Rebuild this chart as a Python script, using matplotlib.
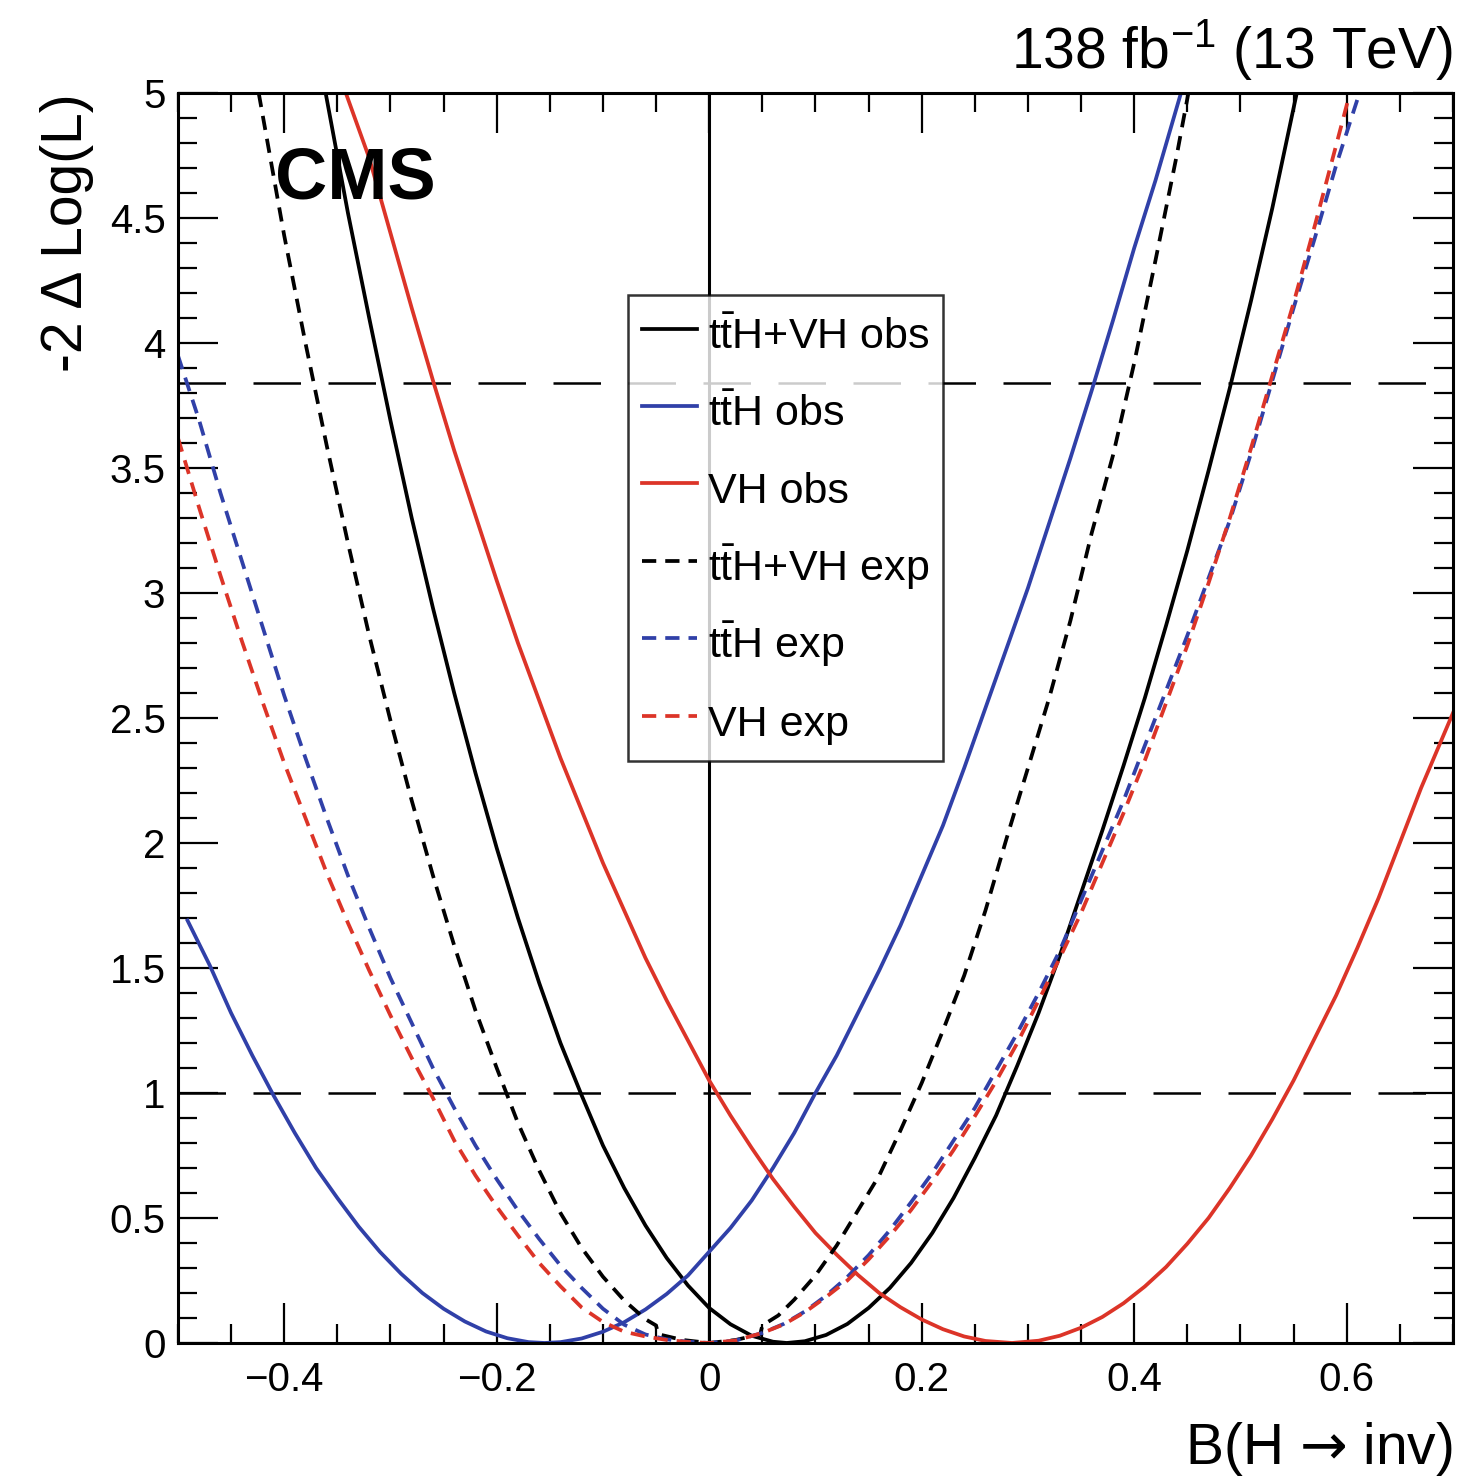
"""
-2 Delta Log(L) scans for B(H -> inv), CMS 138 fb^-1
"""

import matplotlib
matplotlib.use("Agg")
import matplotlib.pyplot as plt
from matplotlib.ticker import MultipleLocator, FuncFormatter

plt.rcParams['font.family'] = ['Liberation Sans', 'DejaVu Sans']
plt.rcParams['mathtext.fontset'] = 'custom'
plt.rcParams['mathtext.rm'] = 'Liberation Sans'
plt.rcParams['mathtext.it'] = 'Liberation Sans:italic'
plt.rcParams['mathtext.bf'] = 'Liberation Sans:bold'
plt.rcParams['mathtext.sf'] = 'DejaVu Sans'

# ttH+VH observed
comb_obs_x = [-0.361, -0.34, -0.32, -0.30, -0.28, -0.26, -0.24, -0.22, -0.20, -0.18,
              -0.16, -0.14, -0.12, -0.10, -0.08, -0.06, -0.04, -0.02, 0.0, 0.02,
              0.04, 0.06, 0.073, 0.09, 0.11, 0.13, 0.15, 0.17, 0.19, 0.21,
              0.23, 0.25, 0.27, 0.29, 0.31, 0.33, 0.35, 0.37, 0.39, 0.41,
              0.43, 0.45, 0.47, 0.49, 0.51, 0.53, 0.553]
comb_obs_y = [5.0, 4.52, 4.10, 3.69, 3.30, 2.94, 2.60, 2.28, 1.98, 1.70,
              1.44, 1.20, 0.99, 0.79, 0.62, 0.47, 0.34, 0.23, 0.14, 0.075,
              0.029, 0.005, 0.0, 0.007, 0.032, 0.076, 0.14, 0.22, 0.32, 0.44,
              0.58, 0.74, 0.91, 1.11, 1.32, 1.55, 1.80, 2.05, 2.31, 2.58,
              2.87, 3.17, 3.49, 3.82, 4.17, 4.54, 5.0]

# ttH observed
tth_obs_x = [-0.491, -0.47, -0.45, -0.43, -0.41, -0.39, -0.37, -0.35, -0.33, -0.31,
             -0.29, -0.27, -0.25, -0.23, -0.21, -0.19, -0.17, -0.155, -0.14, -0.12,
             -0.10, -0.08, -0.06, -0.04, -0.02, 0.0, 0.02, 0.04, 0.06, 0.08,
             0.10, 0.12, 0.14, 0.16, 0.18, 0.20, 0.22, 0.24, 0.26, 0.28,
             0.30, 0.32, 0.34, 0.36, 0.38, 0.40, 0.42, 0.444]
tth_obs_y = [1.69, 1.51, 1.32, 1.15, 0.99, 0.84, 0.70, 0.58, 0.466, 0.365,
             0.277, 0.20, 0.137, 0.086, 0.046, 0.019, 0.0034, 0.0, 0.0033, 0.018,
             0.045, 0.083, 0.134, 0.196, 0.27, 0.365, 0.46, 0.57, 0.70, 0.84,
             1.0, 1.15, 1.32, 1.49, 1.67, 1.87, 2.07, 2.30, 2.54, 2.78,
             3.02, 3.28, 3.54, 3.81, 4.09, 4.38, 4.65, 5.0]

# VH observed
vh_obs_x = [-0.342, -0.32, -0.30, -0.28, -0.26, -0.24, -0.22, -0.20, -0.18, -0.16,
            -0.14, -0.12, -0.10, -0.08, -0.06, -0.04, -0.02, 0.0, 0.02, 0.04,
            0.06, 0.08, 0.10, 0.12, 0.14, 0.16, 0.18, 0.20, 0.22, 0.24,
            0.26, 0.285, 0.31, 0.33, 0.35, 0.37, 0.39, 0.41, 0.43, 0.45,
            0.47, 0.49, 0.51, 0.53, 0.55, 0.57, 0.59, 0.61, 0.63, 0.65,
            0.67, 0.70]
vh_obs_y = [5.0, 4.74, 4.44, 4.14, 3.85, 3.57, 3.31, 3.05, 2.80, 2.57,
            2.34, 2.13, 1.92, 1.73, 1.54, 1.37, 1.21, 1.05, 0.91, 0.78,
            0.656, 0.545, 0.44, 0.353, 0.272, 0.20, 0.143, 0.094, 0.055, 0.026,
            0.008, 0.0, 0.009, 0.029, 0.061, 0.104, 0.159, 0.226, 0.304, 0.397,
            0.50, 0.62, 0.75, 0.895, 1.05, 1.22, 1.39, 1.58, 1.78, 2.0,
            2.22, 2.52]

# ttH+VH expected
comb_exp_x = [-0.424, -0.40, -0.38, -0.36, -0.34, -0.32, -0.30, -0.28, -0.26, -0.24,
              -0.22, -0.20, -0.18, -0.16, -0.14, -0.12, -0.10, -0.08, -0.06, -0.05,
              -0.048, -0.025, 0.0, 0.025, 0.048, 0.05, 0.065, 0.08, 0.10, 0.12,
              0.14, 0.16, 0.18, 0.20, 0.22, 0.24, 0.26, 0.28, 0.30, 0.32,
              0.34, 0.36, 0.38, 0.40, 0.42, 0.44, 0.451]
comb_exp_y = [5.0, 4.43, 4.0, 3.59, 3.2, 2.83, 2.49, 2.17, 1.87, 1.59,
              1.33, 1.10, 0.88, 0.69, 0.52, 0.38, 0.265, 0.17, 0.095, 0.07,
              0.035, 0.012, 0.0, 0.012, 0.035, 0.07, 0.11, 0.173, 0.27, 0.39,
              0.53, 0.67, 0.85, 1.04, 1.25, 1.47, 1.73, 2.02, 2.30, 2.58,
              2.89, 3.24, 3.55, 3.92, 4.33, 4.75, 5.0]

# ttH expected
tth_exp_x = [-0.5, -0.48, -0.46, -0.44, -0.42, -0.40, -0.38, -0.36, -0.34, -0.32,
             -0.30, -0.28, -0.26, -0.24, -0.22, -0.20, -0.18, -0.16, -0.14, -0.12,
             -0.10, -0.08, -0.06, -0.04, -0.02, 0.0, 0.025, 0.05, 0.07, 0.09,
             0.11, 0.13, 0.15, 0.17, 0.19, 0.21, 0.23, 0.25, 0.27, 0.29,
             0.31, 0.33, 0.35, 0.37, 0.39, 0.41, 0.43, 0.45, 0.47, 0.49,
             0.51, 0.53, 0.55, 0.57, 0.59, 0.612]
tth_exp_y = [3.95, 3.69, 3.40, 3.13, 2.86, 2.59, 2.34, 2.10, 1.87, 1.66,
             1.46, 1.28, 1.10, 0.94, 0.79, 0.655, 0.53, 0.416, 0.31, 0.22,
             0.137, 0.073, 0.034, 0.0145, 0.005, 0.0, 0.01, 0.04, 0.076, 0.126,
             0.189, 0.264, 0.351, 0.451, 0.563, 0.68, 0.81, 0.94, 1.09, 1.24,
             1.40, 1.57, 1.77, 1.97, 2.17, 2.39, 2.61, 2.83, 3.06, 3.29,
             3.56, 3.85, 4.14, 4.42, 4.71, 5.0]

# VH expected
vh_exp_x = [-0.5, -0.48, -0.46, -0.44, -0.42, -0.40, -0.38, -0.36, -0.34, -0.32,
            -0.30, -0.28, -0.26, -0.24, -0.22, -0.20, -0.18, -0.16, -0.14, -0.12,
            -0.10, -0.08, -0.06, -0.04, -0.02, 0.0, 0.025, 0.05, 0.07, 0.09,
            0.11, 0.13, 0.15, 0.17, 0.19, 0.21, 0.23, 0.25, 0.27, 0.29,
            0.31, 0.33, 0.35, 0.37, 0.39, 0.41, 0.43, 0.45, 0.47, 0.49,
            0.51, 0.53, 0.55, 0.57, 0.59, 0.603]
vh_exp_y = [3.62, 3.34, 3.07, 2.81, 2.56, 2.32, 2.10, 1.88, 1.68, 1.49,
            1.31, 1.14, 0.98, 0.81, 0.67, 0.545, 0.43, 0.32, 0.227, 0.142,
            0.084, 0.045, 0.026, 0.012, 0.004, 0.0, 0.01, 0.04, 0.074, 0.123,
            0.184, 0.25, 0.334, 0.428, 0.532, 0.647, 0.772, 0.907, 1.047, 1.20,
            1.37, 1.54, 1.72, 1.92, 2.12, 2.33, 2.56, 2.79, 3.04, 3.30,
            3.58, 3.87, 4.16, 4.47, 4.79, 5.0]

thresholds = [1.0, 3.84]

BLACK = 'black'
BLUE = '#3040a8'
RED = '#dc3428'
LW = 2.7
DASH = (3.8, 2.4)
TT = r't$\bar{\mathrm{t}}$H'

fig = plt.figure(figsize=(14.61, 14.81), dpi=100)
ax = fig.add_axes([0.1218, 0.0932, 0.8727, 0.8440])

ax.axvline(0, color='k', lw=2.2, zorder=1)
for t in thresholds:
    ax.axhline(t, color='k', lw=1.8, dashes=(19, 11), zorder=1)

ax.plot(comb_obs_x, comb_obs_y, color=BLACK, lw=LW, label=TT + '+VH obs')
ax.plot(tth_obs_x, tth_obs_y, color=BLUE, lw=LW, label=TT + ' obs')
ax.plot(vh_obs_x, vh_obs_y, color=RED, lw=LW, label='VH obs')
ax.plot(comb_exp_x, comb_exp_y, color=BLACK, lw=LW, dashes=DASH, label=TT + '+VH exp')
ax.plot(tth_exp_x, tth_exp_y, color=BLUE, lw=LW, dashes=DASH, label=TT + ' exp')
ax.plot(vh_exp_x, vh_exp_y, color=RED, lw=LW, dashes=DASH, label='VH exp')

ax.set_xlim(-0.5, 0.7)
ax.set_ylim(0, 5)

ax.xaxis.set_major_locator(MultipleLocator(0.2))
ax.xaxis.set_minor_locator(MultipleLocator(0.05))
ax.yaxis.set_major_locator(MultipleLocator(0.5))
ax.yaxis.set_minor_locator(MultipleLocator(0.1))
ax.xaxis.set_major_formatter(FuncFormatter(lambda v, p: f"{round(v, 2):g}".replace('-', '\u2212')))
ax.yaxis.set_major_formatter(FuncFormatter(lambda v, p: f"{round(v, 2):g}"))

ax.tick_params(which='both', direction='in', top=True, right=True, width=1.6)
ax.tick_params(which='major', length=29, labelsize=29)
ax.tick_params(which='minor', length=14)
ax.tick_params(axis='x', which='major', pad=13)
ax.tick_params(axis='y', which='major', pad=9)
for s in ax.spines.values():
    s.set_linewidth(2.2)

ax.set_xlabel('B(H $\\mathsf{\u2192}$ inv)', fontsize=41, loc='right')
ax.xaxis.set_label_coords(1.0, -0.062)
ax.set_ylabel('-2 \u0394 Log(L)', fontsize=41, loc='top')
ax.yaxis.set_label_coords(-0.066, 1.0)

ax.text(1.0, 1.02, r'138 fb$^{-1}$ (13 TeV)', transform=ax.transAxes,
        ha='right', va='baseline', fontsize=41)
ax.text(0.076, 0.958, 'CMS', transform=ax.transAxes, ha='left', va='top',
        fontsize=52, fontweight='bold', zorder=5)

leg = ax.legend(loc='upper left', bbox_to_anchor=(0.353, 0.8384), fontsize=31,
                frameon=True, fancybox=False, framealpha=0.8, edgecolor='black',
                handlelength=1.28, handleheight=1.45, handletextpad=0.25,
                labelspacing=0.61, borderpad=0.32, borderaxespad=0)
leg.get_frame().set_linewidth(1.8)

fig.savefig('out.png', dpi=100)
